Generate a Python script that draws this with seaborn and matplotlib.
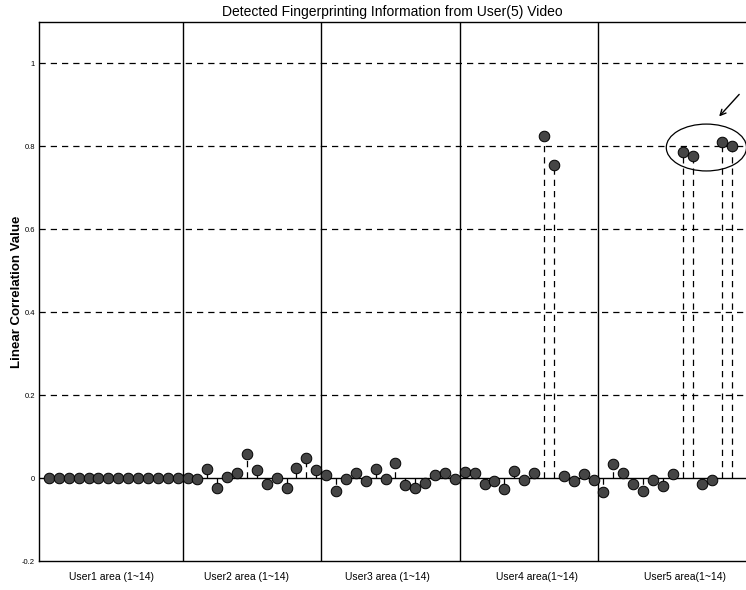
import numpy as np
import pandas as pd
import matplotlib
matplotlib.use("Agg")
import matplotlib.pyplot as plt
from matplotlib.patches import Ellipse
import seaborn as sns

# Correlation values for each user's 14 embedding areas
user1 = [0.0] * 14
user2 = [0.0, -0.003, 0.021, -0.024, 0.003, 0.013, 0.058, 0.020,
         -0.014, 0.001, -0.025, 0.024, 0.048, 0.020]
user3 = [0.007, -0.031, -0.001, 0.013, -0.007, 0.023, -0.001, 0.036,
         -0.017, -0.025, -0.011, 0.008, 0.013, -0.001]
user4 = [0.015, 0.013, -0.015, -0.006, -0.026, 0.017, -0.005, 0.013,
         0.825, 0.755, 0.006, -0.008, 0.010, -0.005]
user5 = [-0.033, 0.033, 0.013, -0.014, -0.031, -0.004, -0.019, 0.010,
         0.786, 0.776, -0.014, -0.005, 0.811, 0.800]

group_labels = ["User1 area (1~14)", "User2 area (1~14)", "User3 area (1~14)",
                "User4 area(1~14)", "User5 area(1~14)"]
group_label_pos = [7.3, 21.0, 35.2, 50.3, 65.2]
y_ticks = [-0.2, 0, 0.2, 0.4, 0.6, 0.8, 1]
y_tick_labels = ["-0.2", "0", "0.2", "0.4", "0.6", "0.8", "1"]

values = user1 + user2 + user3 + user4 + user5
df = pd.DataFrame({"area": np.arange(1, len(values) + 1), "corr": values})

sns.set_style("white")
plt.rcParams["font.family"] = ["Liberation Sans", "DejaVu Sans"]
plt.rcParams["text.color"] = "black"
plt.rcParams["axes.labelcolor"] = "black"
plt.rcParams["xtick.color"] = "black"
plt.rcParams["ytick.color"] = "black"

fig = plt.figure(figsize=(7.46, 5.90), dpi=100)
ax = fig.add_axes([0.0523, 0.049, 0.9477, 0.914])

# dashed reference lines
for yv in [0.2, 0.4, 0.6, 0.8, 1.0]:
    ax.axhline(yv, color="black", lw=0.9, ls=(0, (5, 4)), zorder=1)
ax.axhline(0, color="black", lw=1.0, zorder=1)

# group separators
for xs in [14.5, 28.5, 42.5, 56.5]:
    ax.axvline(xs, color="black", lw=1.0, zorder=1)

# stems
ax.vlines(df["area"], 0, df["corr"], colors="black", lw=0.9,
          linestyles=(0, (5, 4)), zorder=2)

sns.scatterplot(data=df, x="area", y="corr", ax=ax, s=58, color="#454545",
                edgecolor="black", linewidth=0.7, zorder=3, legend=False)

# highlight of the detected areas
ax.add_patch(Ellipse((67.4, 0.797), 8.1, 0.113, fill=False,
                     edgecolor="black", lw=0.9, zorder=4))
ax.annotate("", xy=(68.5, 0.867), xytext=(70.9, 0.930),
            arrowprops=dict(arrowstyle="->", color="black", lw=1.0))

ax.set_xlim(0, 71.4)
ax.set_ylim(-0.2, 1.1)
ax.set_yticks(y_ticks)
ax.set_yticklabels(y_tick_labels, fontsize=5.5)
ax.set_xticks(group_label_pos)
ax.set_xticklabels(group_labels, fontsize=7.5)
ax.tick_params(axis="x", length=0, pad=8)
ax.tick_params(axis="y", length=0, pad=3)
ax.set_xlabel("")
ax.set_ylabel("Linear Correlation Value", fontsize=9.5, fontweight="bold")
ax.yaxis.set_label_coords(-0.023, 0.5)
ax.set_title("Detected Fingerprinting Information from User(5) Video",
             fontsize=10, pad=4)

for side in ["left", "top", "bottom"]:
    ax.spines[side].set_color("black")
    ax.spines[side].set_linewidth(1.0)
ax.spines["right"].set_visible(False)

fig.savefig("out.png", dpi=100)
